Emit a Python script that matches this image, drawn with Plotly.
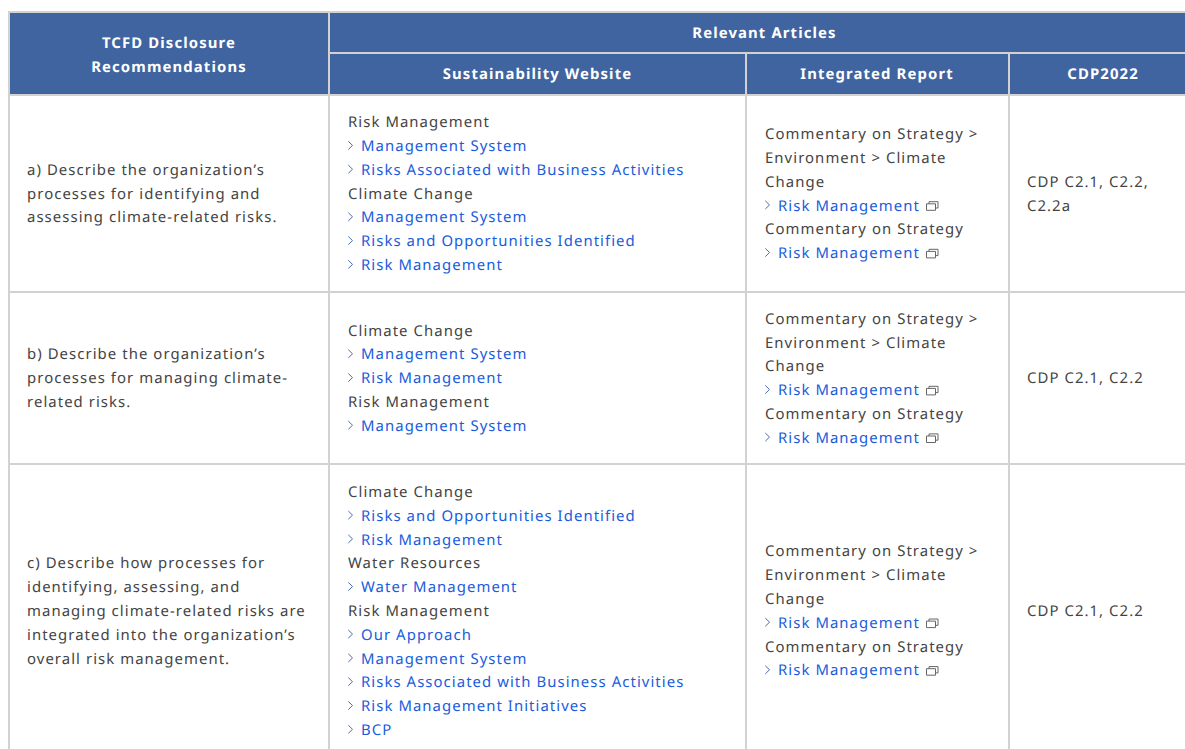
import plotly.graph_objects as go

HEADER_TOP = "Relevant Articles"
HEADER_FIRST = ["TCFD Disclosure", "Recommendations"]
HEADER_SUB = ["Sustainability Website", "Integrated Report", "CDP2022"]

ROW_A_LABEL = ["a) Describe the organization’s", "processes for identifying and", "assessing climate-related risks."]
ROW_B_LABEL = ["b) Describe the organization’s", "processes for managing climate-", "related risks."]
ROW_C_LABEL = ["c) Describe how processes for", "identifying, assessing, and", "managing climate-related risks are",
               "integrated into the organization’s", "overall risk management."]

ROW_A_SITE = [(["Risk Management"], ["Management System", "Risks Associated with Business Activities"]),
              (["Climate Change"], ["Management System", "Risks and Opportunities Identified", "Risk Management"])]
ROW_B_SITE = [(["Climate Change"], ["Management System", "Risk Management"]),
              (["Risk Management"], ["Management System"])]
ROW_C_SITE = [(["Climate Change"], ["Risks and Opportunities Identified", "Risk Management"]),
              (["Water Resources"], ["Water Management"]),
              (["Risk Management"], ["Our Approach", "Management System", "Risks Associated with Business Activities",
                                     "Risk Management Initiatives", "BCP"])]
REPORT = [(["Commentary on Strategy >", "Environment > Climate", "Change"], ["Risk Management"]),
          (["Commentary on Strategy"], ["Risk Management"])]
ROW_A_CDP = ["CDP C2.1, C2.2,", "C2.2a"]
ROW_B_CDP = ["CDP C2.1, C2.2"]
ROW_C_CDP = ["CDP C2.1, C2.2"]

ROWS = [(ROW_A_LABEL, ROW_A_SITE, REPORT, ROW_A_CDP),
        (ROW_B_LABEL, ROW_B_SITE, REPORT, ROW_B_CDP),
        (ROW_C_LABEL, ROW_C_SITE, REPORT, ROW_C_CDP)]

W, H = 1185, 749
BLUE, GRID, INK, LINK, CHEV, ICON = "#40649f", "#d2d2d2", "#444444", "#1a5cdc", "#4a6cb0", "#666666"
FONT = "Noto Sans"
SIZE = 14.88
PITCH = 23.8
ROW_CENTERS = [193.6, 378.2, 610.9]
COL_TEXT = [27, 348, 765, 1027]
LINK_INDENT = 13
CENTER_X = [169, 537.5, 877, 1103]
TEXT_DY = 1.3

shapes = []
def rect(x0, y0, x1, y1, color):
    shapes.append(dict(type="rect", xref="x", yref="y", x0=x0, y0=y0, x1=x1, y1=y1,
                       fillcolor=color, line_width=0, layer="below"))

rect(8, 11, W, 96, BLUE)
for y0, y1 in [(11, 13), (52, 54), (94, 96), (291, 293), (463, 465)]:
    if y0 == 52:
        rect(328, y0, W, y1, GRID)
    else:
        rect(8, y0, W, y1, GRID)
rect(8, 11, 10, H, GRID)
rect(328, 11, 330, H, GRID)
rect(745, 54, 747, H, GRID)
rect(1008, 54, 1010, H, GRID)

plain = ([], [], [])
links = ([], [], [])
chev_x, chev_y, icon_x, icon_y = [], [], [], []

def add_plain(x, y, t):
    plain[0].append(x); plain[1].append(y + TEXT_DY); plain[2].append(t)

def add_link(x, y, t, icon):
    links[0].append(x + LINK_INDENT); links[1].append(y + TEXT_DY); links[2].append(t)
    chev_x.extend([x + 0.3, x + 4.5, x + 0.3, None])
    chev_y.extend([y - 4.7, y - 0.6, y + 3.5, None])
    if icon:
        ix = x + LINK_INDENT + 148.5
        icon_x.extend([ix, ix + 9, ix + 9, ix, ix, None, ix + 2.5, ix + 2.5, ix + 11.5, ix + 11.5, ix + 9, None])
        icon_y.extend([y - 1.7, y - 1.7, y + 4.8, y + 4.8, y - 1.7, None, y - 1.7, y - 3.8, y - 3.8, y + 2.5, y + 2.5, None])

def draw_groups(x, yc, groups, icon):
    n = sum(len(h) + len(l) for h, l in groups)
    y = yc - PITCH * (n - 1) / 2
    for heads, items in groups:
        for t in heads:
            add_plain(x, y, t); y += PITCH
        for t in items:
            add_link(x, y, t, icon); y += PITCH

def draw_lines(x, yc, lines):
    y = yc - PITCH * (len(lines) - 1) / 2
    for t in lines:
        add_plain(x, y, t); y += PITCH

for (label, site, report, cdp), yc in zip(ROWS, ROW_CENTERS):
    draw_lines(COL_TEXT[0], yc, label)
    draw_groups(COL_TEXT[1], yc, site, False)
    draw_groups(COL_TEXT[2], yc, report, True)
    draw_lines(COL_TEXT[3], yc, cdp)

head_x = [CENTER_X[0], CENTER_X[0], 764.5] + CENTER_X[1:]
head_y = [44, 68, 34, 75.7, 75.7, 75.7]
head_t = HEADER_FIRST + [HEADER_TOP] + HEADER_SUB

fig = go.Figure()
fig.add_trace(go.Scatter(x=chev_x, y=chev_y, mode="lines", line=dict(color=CHEV, width=1), hoverinfo="skip"))
fig.add_trace(go.Scatter(x=icon_x, y=icon_y, mode="lines", line=dict(color=ICON, width=1), hoverinfo="skip"))
fig.add_trace(go.Scatter(x=plain[0], y=plain[1], text=plain[2], mode="text", textposition="middle right",
                         textfont=dict(family=FONT, size=SIZE, color=INK), hoverinfo="skip"))
fig.add_trace(go.Scatter(x=links[0], y=links[1], text=links[2], mode="text", textposition="middle right",
                         textfont=dict(family=FONT, size=SIZE, color=LINK), hoverinfo="skip"))
fig.add_trace(go.Scatter(x=head_x, y=head_y, text=head_t, mode="text", textposition="middle center",
                         textfont=dict(family=FONT, size=SIZE, color="white", weight=700), hoverinfo="skip"))

fig.update_layout(width=W, height=H, margin=dict(l=0, r=0, t=0, b=0), showlegend=False,
                  paper_bgcolor="white", plot_bgcolor="white", shapes=shapes,
                  xaxis=dict(range=[0, W], visible=False, fixedrange=True),
                  yaxis=dict(range=[H, 0], visible=False, fixedrange=True))

post = """
document.body.style.margin = '0';
document.querySelectorAll('.textpoint text').forEach(function (t) {
  t.style.letterSpacing = (parseInt(t.style.fontWeight) >= 600) ? '1.12px' : '1.07px';
  t.style.textRendering = 'geometricPrecision';
});
"""
fig.write_html("out.html", post_script=post, config={"displayModeBar": False})
